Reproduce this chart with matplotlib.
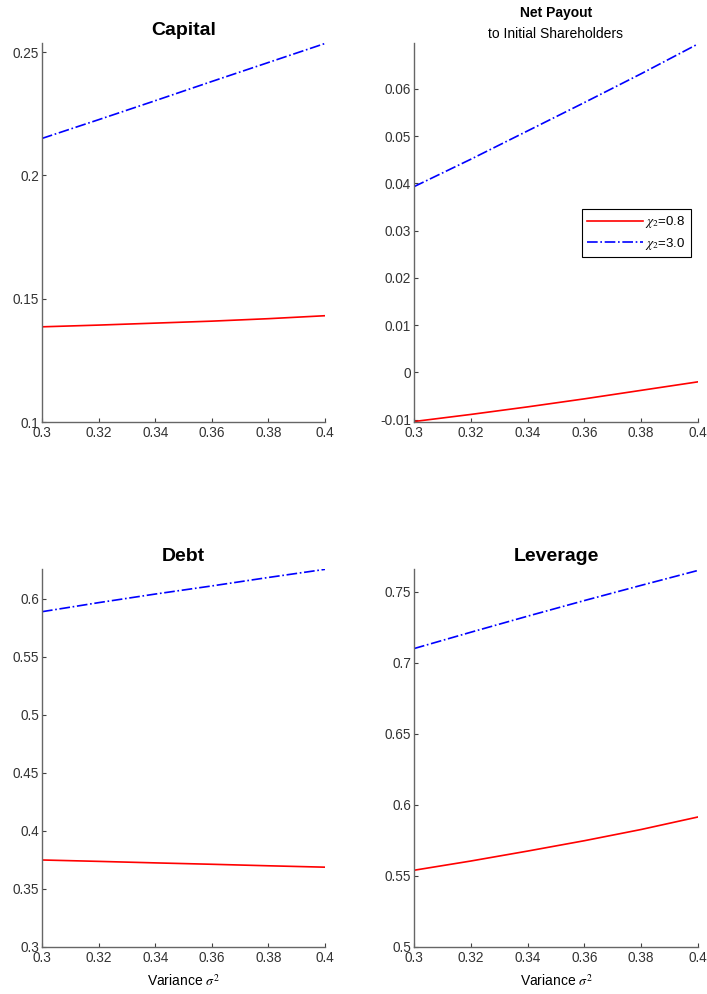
# Comparative statics in the variance of the shock
import matplotlib
matplotlib.use("Agg")
import matplotlib.pyplot as plt

plt.rcParams['font.family'] = ['Liberation Sans', 'DejaVu Sans']
plt.rcParams['mathtext.fontset'] = 'stix'

variance = [0.30, 0.32, 0.34, 0.36, 0.38, 0.40]

capital_low = [0.1386, 0.1393, 0.1401, 0.1409, 0.1419, 0.1431]
capital_high = [0.2150, 0.2226, 0.2303, 0.2381, 0.2458, 0.2535]

payout_low = [-0.0104, -0.0089, -0.0073, -0.0056, -0.0038, -0.0020]
payout_high = [0.0393, 0.0451, 0.0511, 0.0571, 0.0632, 0.0695]

debt_low = [0.3750, 0.3738, 0.3725, 0.3713, 0.3700, 0.3688]
debt_high = [0.5890, 0.5968, 0.6042, 0.6112, 0.6185, 0.6255]

leverage_low = [0.5540, 0.5605, 0.5675, 0.5748, 0.5827, 0.5915]
leverage_high = [0.7100, 0.7215, 0.7328, 0.7438, 0.7545, 0.7650]

labels = [r'$\chi_2$=0.8', r'$\chi_2$=3.0']

W, H = 707, 994
fig = plt.figure(figsize=(W / 100, H / 100), dpi=100)


def make_ax(x0, x1, y0, y1):
    # pixel box -> figure fractions
    return fig.add_axes([x0 / W, 1 - y1 / H, (x1 - x0) / W, (y1 - y0) / H])


def style(ax, ylim, yticks):
    ax.set_xlim(0.3, 0.4)
    ax.set_ylim(*ylim)
    ax.set_xticks([0.3, 0.32, 0.34, 0.36, 0.38, 0.4])
    ax.set_xticklabels(['0.3', '0.32', '0.34', '0.36', '0.38', '0.4'])
    ax.set_yticks(yticks)
    ax.set_yticklabels(['%g' % t for t in yticks])
    for s in ['top', 'right']:
        ax.spines[s].set_visible(False)
    for s in ['left', 'bottom']:
        ax.spines[s].set_color('0.4')
        ax.spines[s].set_linewidth(1.0)
    ax.tick_params(direction='in', length=3, width=0.8, color='0.25',
                   labelsize=9.8, labelcolor='0.2')
    ax.tick_params(axis='x', pad=3)
    ax.tick_params(axis='y', pad=2)


panels = [
    ((42, 325, 43, 422), capital_low, capital_high, (0.1, 0.2537),
     [0.1, 0.15, 0.2, 0.25], 'Capital'),
    ((414, 698, 43, 422), payout_low, payout_high, (-0.0105, 0.0697),
     [-0.01, 0, 0.01, 0.02, 0.03, 0.04, 0.05, 0.06], None),
    ((42, 325, 569, 947), debt_low, debt_high, (0.3, 0.6258),
     [0.3, 0.35, 0.4, 0.45, 0.5, 0.55, 0.6], 'Debt'),
    ((414, 698, 569, 947), leverage_low, leverage_high, (0.5, 0.766),
     [0.5, 0.55, 0.6, 0.65, 0.7, 0.75], 'Leverage'),
]

axes = []
for box, low, high, ylim, yticks, title in panels:
    ax = make_ax(*box)
    ax.plot(variance, low, color='red', lw=1.2, ls='-', label=labels[0])
    ax.plot(variance, high, color='blue', lw=1.2, ls='-.', label=labels[1])
    style(ax, ylim, yticks)
    if title:
        ax.set_title(title, fontsize=14, fontweight='bold', pad=6)
    axes.append(ax)

# two-line title for payout panel
axes[1].text(0.5, 1.005, 'to Initial Shareholders', transform=axes[1].transAxes,
             ha='center', va='bottom', fontsize=10)
axes[1].text(0.5, 1.060, 'Net Payout', transform=axes[1].transAxes,
             ha='center', va='bottom', fontsize=10, fontweight='bold')

leg = axes[1].legend(loc='upper left', bbox_to_anchor=(0.592, 0.562),
                     borderaxespad=0, fancybox=False, framealpha=1,
                     edgecolor='black', fontsize=9.5, handlelength=4.2,
                     handletextpad=0.2, labelspacing=0.4, borderpad=0.4)
leg.get_frame().set_linewidth(0.8)

for ax in axes[2:]:
    ax.set_xlabel(r'Variance $\sigma^2$', fontsize=10, labelpad=6)

fig.savefig('out.png', dpi=100)
